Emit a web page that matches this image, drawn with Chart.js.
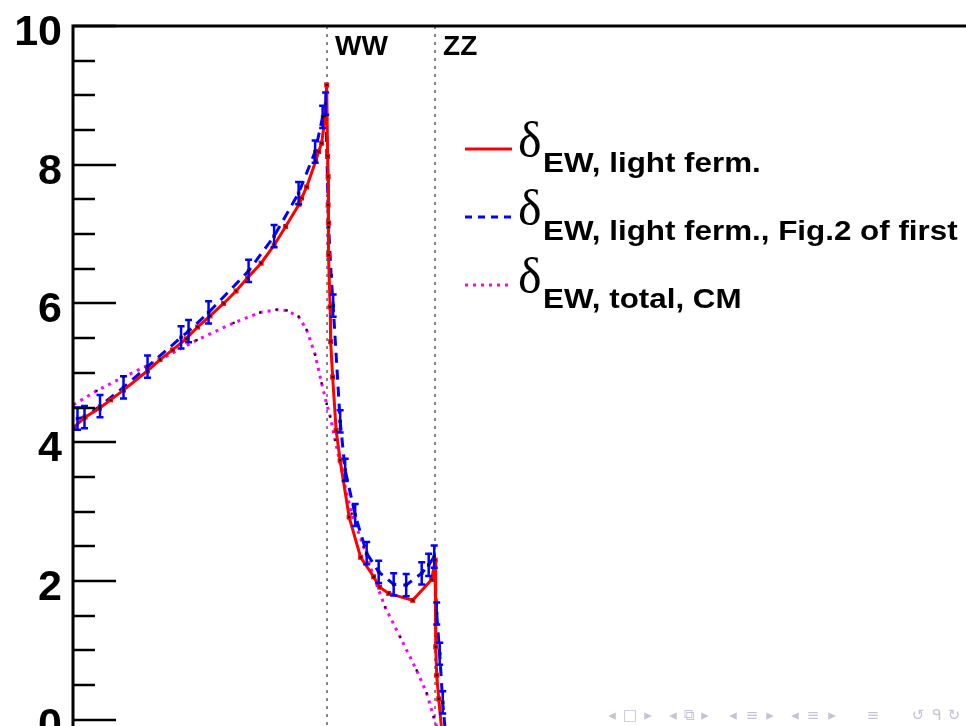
<!DOCTYPE html>
<html>
<head>
<meta charset="utf-8">
<script src="https://cdn.jsdelivr.net/npm/chart.js@4.4.1/dist/chart.umd.min.js"></script>
<style>
  html, body { margin: 0; padding: 0; background: #fff; }
  #frame { position: relative; width: 966px; height: 726px; overflow: hidden; }
  #plot { position: absolute; left: 0; top: 0; }
</style>
</head>
<body>
<div id="frame"><canvas id="plot" width="966" height="819"></canvas></div>
<script>
// DATA (sqrt(s) in GeV, delta in %)
const xMin = 110;
const xMax = 287.7;
const yMin = -1;
const yMax = 10;
const yTicks = [0, 0.5, 1, 1.5, 2, 2.5, 3, 3.5, 4, 4.5, 5, 5.5, 6, 6.5, 7, 7.5, 8, 8.5, 9, 9.5, 10];
const yMajor = [0, 2, 4, 6, 8, 10];

const thresholdX = [160.77, 182.38];
const thresholdLabels = ['WW', 'ZZ'];

// delta_EW, light ferm.
const redX = [110.1, 112.4, 115.3, 117.5, 120.1, 124.9, 127.4, 129.9, 132.6, 134.9, 137.4, 140.1,
  142.6, 144.9, 147.6, 150.2, 152.5, 155.2, 155.7, 156.7, 158.5, 159.1, 159.7, 160.4, 160.7,
  160.9, 161.0, 161.0, 161.1, 161.1, 161.4, 161.5, 161.9, 162.6, 163.4, 165.2, 167.5, 170.1,
  171.3, 173.1, 177.9, 181.7, 182.4, 182.5, 182.7, 183.1, 183.7];
const redY = [4.21, 4.36, 4.49, 4.61, 4.75, 5.03, 5.19, 5.33, 5.49, 5.66, 5.82, 6.00,
  6.18, 6.37, 6.58, 6.84, 7.11, 7.43, 7.52, 7.68, 8.05, 8.19, 8.31, 8.70, 9.15,
  8.12, 7.83, 7.42, 7.16, 6.70, 5.95, 5.45, 4.94, 4.17, 3.74, 2.92, 2.34, 2.06,
  1.91, 1.82, 1.72, 2.02, 2.30, 1.05, 0.64, 0.30, -0.15];

// delta_EW, light ferm., Fig.2 of first
const blueX = [110.9, 112.3, 115.4, 120.1, 124.9, 131.6, 133.1, 137.1, 145.1, 150.2, 155.1, 158.4,
  159.9, 160.5, 161.1, 161.6, 162.0, 163.4, 164.4, 166.4, 168.7, 171.1, 174.1, 176.6, 179.7,
  181.1, 182.2, 182.7, 183.3, 183.9, 184.4];
const blueY = [4.34, 4.36, 4.52, 4.79, 5.09, 5.51, 5.60, 5.87, 6.47, 6.97, 7.59, 8.19,
  8.69, 8.88, 7.10, 6.40, 5.97, 4.30, 3.60, 2.95, 2.40, 2.13, 1.95, 1.94, 2.11,
  2.23, 2.35, 1.53, 0.95, 0.25, -0.15];
const blueErr = [0.16, 0.16, 0.16, 0.16, 0.16, 0.16, 0.16, 0.16, 0.16, 0.16, 0.16, 0.16,
  0.16, 0.16, 0, 0, 0.16, 0.16, 0.16, 0.16, 0.16, 0.16, 0.16, 0.16, 0.16,
  0.16, 0.16, 0.16, 0.16, 0.16, 0];

// delta_EW, total, CM
const magX = [110.1, 114.7, 120.1, 127.4, 134.7, 142.1, 147.4, 150.7, 152.7, 155.1, 156.7, 158.4,
  159.7, 160.7, 161.4, 162.4, 164.1, 165.7, 168.1, 170.1, 172.4, 175.4, 178.7, 180.7, 182.1, 182.9];
const magY = [4.54, 4.74, 4.94, 5.19, 5.47, 5.72, 5.87, 5.91, 5.90, 5.81, 5.62, 5.26,
  4.85, 4.55, 4.37, 4.03, 3.45, 2.97, 2.49, 2.06, 1.62, 1.19, 0.71, 0.38, 0.04, -0.15];

const legendLabels = ['EW, light ferm.', 'EW, light ferm., Fig.2 of first', 'EW, total, CM'];

const navSymbols = [
  ['◂', 612], ['□', 630], ['▸', 648], ['◂', 673], ['⧉', 689], ['▸', 705],
  ['◂', 733], ['≡', 752], ['▸', 770], ['◂', 795], ['≡', 813], ['▸', 832],
  ['≡', 873], ['↺', 918], ['ᑫ', 937], ['↻', 954]
];

function toPoints(xs, ys) {
  return xs.map((x, i) => ({ x: x, y: ys[i] }));
}

const sansBold = "bold {s}px 'Liberation Sans', Arial, Helvetica, sans-serif";
function font(size) { return sansBold.replace('{s}', size); }

// ROOT-like frame, ticks, threshold lines, error bars, legend
const rootStyle = {
  id: 'rootStyle',
  beforeDatasetsDraw(chart) {
    const { ctx, chartArea, scales } = chart;
    ctx.save();
    ctx.strokeStyle = '#888';
    ctx.lineWidth = 2;
    ctx.setLineDash([3, 5]);
    thresholdX.forEach(v => {
      const px = Math.round(scales.x.getPixelForValue(v));
      ctx.beginPath();
      ctx.moveTo(px, chartArea.top);
      ctx.lineTo(px, chartArea.bottom);
      ctx.stroke();
    });
    ctx.restore();
  },
  afterDatasetsDraw(chart) {
    const { ctx, scales } = chart;
    ctx.save();
    // error bars on the blue set
    ctx.strokeStyle = '#0000ff';
    ctx.lineWidth = 2.5;
    blueX.forEach((x, i) => {
      if (!blueErr[i]) return;
      const px = scales.x.getPixelForValue(x);
      const y1 = scales.y.getPixelForValue(blueY[i] + blueErr[i]);
      const y2 = scales.y.getPixelForValue(blueY[i] - blueErr[i]);
      ctx.beginPath();
      ctx.moveTo(px, y1); ctx.lineTo(px, y2);
      ctx.moveTo(px - 3.5, y1); ctx.lineTo(px + 3.5, y1);
      ctx.moveTo(px - 3.5, y2); ctx.lineTo(px + 3.5, y2);
      ctx.stroke();
    });
    // small black dots at marker centres
    ctx.fillStyle = '#000';
    chart.data.datasets.forEach((ds, di) => {
      chart.getDatasetMeta(di).data.forEach(pt => {
        ctx.fillRect(pt.x - 1, pt.y - 1, 2, 2);
      });
    });
    ctx.restore();
  },
  afterDraw(chart) {
    const { ctx, chartArea, scales } = chart;
    ctx.save();
    ctx.strokeStyle = '#000';
    ctx.lineWidth = 3;
    ctx.beginPath();
    ctx.moveTo(chartArea.left, chartArea.bottom);
    ctx.lineTo(chartArea.left, chartArea.top);
    ctx.lineTo(chart.width, chartArea.top);
    ctx.stroke();

    // y ticks inside frame
    ctx.lineWidth = 2.5;
    yTicks.forEach(v => {
      const py = Math.round(scales.y.getPixelForValue(v));
      const len = yMajor.includes(v) ? 43 : 22;
      ctx.beginPath();
      ctx.moveTo(chartArea.left, py);
      ctx.lineTo(chartArea.left + len, py);
      ctx.stroke();
    });

    // threshold labels
    ctx.fillStyle = '#000';
    ctx.font = font(28);
    ctx.textAlign = 'left';
    ctx.textBaseline = 'alphabetic';
    thresholdX.forEach((v, i) => {
      const px = scales.x.getPixelForValue(v);
      ctx.fillText(thresholdLabels[i], px + 8, 55);
    });

    // legend
    const styles = [
      { color: '#ff0000', dash: [] },
      { color: '#0000ff', dash: [7, 6] },
      { color: '#ff00ff', dash: [3, 5] }
    ];
    legendLabels.forEach((label, i) => {
      const yLine = 149 + i * 68;
      ctx.strokeStyle = styles[i].color;
      ctx.lineWidth = 3;
      ctx.setLineDash(styles[i].dash);
      ctx.beginPath();
      ctx.moveTo(465, yLine);
      ctx.lineTo(512, yLine);
      ctx.stroke();
      ctx.setLineDash([]);
      ctx.fillStyle = '#000';
      ctx.font = "50px 'Liberation Serif', 'Times New Roman', serif";
      ctx.fillText('δ', 518, yLine + 8);
      ctx.save();
      ctx.translate(543, yLine + 23);
      ctx.scale(1.12, 1);
      ctx.font = font(28);
      ctx.fillText(label, 0, 0);
      ctx.restore();
    });

    // beamer navigation symbols
    ctx.fillStyle = '#c4c4d6';
    ctx.textAlign = 'center';
    ctx.textBaseline = 'middle';
    ctx.font = "15px 'DejaVu Sans', sans-serif";
    navSymbols.forEach(([s, x]) => ctx.fillText(s, x, 716));
    ctx.restore();
  }
};

const chart = new Chart(document.getElementById('plot'), {
  type: 'line',
  data: {
    datasets: [
      {
        label: legendLabels[0],
        data: toPoints(redX, redY),
        borderColor: '#ff0000',
        borderWidth: 3,
        pointStyle: 'rect',
        pointRadius: 3.5,
        pointBackgroundColor: '#ff0000',
        pointBorderWidth: 0,
        tension: 0
      },
      {
        label: legendLabels[1],
        data: toPoints(blueX, blueY),
        borderColor: '#0000ff',
        borderWidth: 3,
        borderDash: [10, 7],
        pointStyle: 'rect',
        pointRadius: 2.5,
        pointBackgroundColor: '#0000ff',
        pointBorderWidth: 0,
        tension: 0
      },
      {
        label: legendLabels[2],
        data: toPoints(magX, magY),
        borderColor: '#ff00ff',
        borderWidth: 3,
        borderDash: [3, 5],
        pointStyle: 'rect',
        pointRadius: 1.5,
        pointBackgroundColor: '#ff00ff',
        pointBorderWidth: 0,
        tension: 0
      }
    ]
  },
  options: {
    responsive: false,
    animation: false,
    devicePixelRatio: 1,
    layout: { padding: { top: 26, right: 0, bottom: 30, left: 0 } },
    scales: {
      x: { type: 'linear', min: xMin, max: xMax, display: false },
      y: {
        type: 'linear',
        min: yMin,
        max: yMax,
        afterBuildTicks: scale => { scale.ticks = yTicks.map(v => ({ value: v })); },
        afterFit: scale => {
          scale.width = 73;
          scale.paddingTop = 0;
          scale.paddingBottom = 0;
          scale.paddingLeft = 0;
          scale.paddingRight = 0;
        },
        grid: { display: false, drawTicks: false },
        border: { display: false },
        ticks: {
          autoSkip: false,
          padding: 11,
          labelOffset: 7,
          color: '#000',
          font: { family: "'Liberation Sans', Arial, Helvetica, sans-serif", size: 43, weight: 'bold' },
          callback: v => (yMajor.includes(v) ? String(v) : '')
        }
      }
    },
    plugins: {
      legend: { display: false },
      tooltip: { enabled: false }
    }
  },
  plugins: [rootStyle]
});
</script>
</body>
</html>
